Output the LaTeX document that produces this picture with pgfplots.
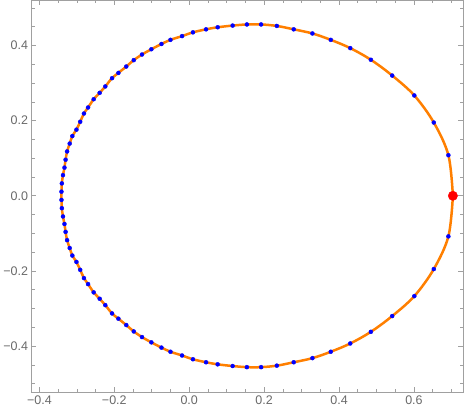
\documentclass[border=0pt]{standalone}
\usepackage{fontspec}
\setmainfont{Liberation Sans}
\usepackage{pgfplots}
\pgfplotsset{compat=1.18}

\definecolor{orbitorange}{RGB}{255,127,0}
\definecolor{framegray}{RGB}{160,160,160}
\definecolor{labelgray}{RGB}{105,105,105}

\begin{document}
\begin{tikzpicture}
\begin{axis}[
    scale only axis,
    width=432pt, height=392pt,
    xmin=-0.421, xmax=0.731,
    ymin=-0.522, ymax=0.52,
    axis line style={framegray, line width=0.8pt},
    tick style={framegray, line width=0.6pt},
    tick align=inside,
    major tick length=5pt,
    minor tick length=3pt,
    xtick={-0.4,-0.2,0,0.2,0.4,0.6},
    xticklabels={−0.4,−0.2,0.0,0.2,0.4,0.6},
    ytick={-0.4,-0.2,0,0.2,0.4},
    yticklabels={−0.4,−0.2,0.0,0.2,0.4},
    minor xtick={-0.35,-0.3,-0.25,-0.15,-0.1,-0.05,0.05,0.1,0.15,0.25,0.3,0.35,0.45,0.5,0.55,0.65,0.7},
    minor ytick={-0.5,-0.45,-0.35,-0.3,-0.25,-0.15,-0.1,-0.05,0.05,0.1,0.15,0.25,0.3,0.35,0.45,0.5},
    ticklabel style={font=\fontsize{12.5}{14}\selectfont, text=labelgray},
]
% orbit curve
\addplot[orbitorange, line width=2.5pt, smooth, tension=0.55] coordinates {
 (0.704,0) (0.692,0.108) (0.653,0.195) (0.601,0.267) (0.542,0.320) (0.485,0.362)
 (0.430,0.393) (0.378,0.415) (0.329,0.432) (0.279,0.443) (0.234,0.452) (0.192,0.456)
 (0.154,0.456) (0.116,0.453) (0.076,0.4485) (0.045,0.443) (0.010,0.435) (-0.019,0.425)
 (-0.050,0.415) (-0.074,0.404) (-0.101,0.390) (-0.126,0.376) (-0.148,0.361) (-0.168,0.344)
 (-0.189,0.327) (-0.206,0.313) (-0.224,0.291) (-0.239,0.274) (-0.255,0.257) (-0.270,0.235)
 (-0.281,0.219) (-0.291,0.197) (-0.301,0.176) (-0.312,0.159) (-0.319,0.139) (-0.326,0.118)
 (-0.330,0.096) (-0.333,0.075) (-0.337,0.055) (-0.340,0.033) (-0.341,0.011)
 (-0.341,-0.011) (-0.340,-0.033) (-0.337,-0.055) (-0.333,-0.075) (-0.330,-0.096) (-0.326,-0.118)
 (-0.319,-0.139) (-0.312,-0.159) (-0.301,-0.176) (-0.291,-0.197) (-0.281,-0.219) (-0.270,-0.235)
 (-0.255,-0.257) (-0.239,-0.274) (-0.224,-0.291) (-0.206,-0.313) (-0.189,-0.327) (-0.168,-0.344)
 (-0.148,-0.361) (-0.126,-0.376) (-0.101,-0.390) (-0.074,-0.404) (-0.050,-0.415) (-0.019,-0.425)
 (0.010,-0.435) (0.045,-0.443) (0.076,-0.4485) (0.116,-0.453) (0.154,-0.456) (0.192,-0.456)
 (0.234,-0.452) (0.279,-0.443) (0.329,-0.432) (0.378,-0.415) (0.430,-0.393) (0.485,-0.362)
 (0.542,-0.320) (0.601,-0.267) (0.653,-0.195) (0.692,-0.108) (0.704,0)
};
% sample points
\addplot[blue, only marks, mark=*, mark size=2pt] coordinates {
 (0.692,0.108) (0.653,0.195) (0.601,0.267) (0.542,0.320) (0.485,0.362)
 (0.430,0.393) (0.378,0.415) (0.329,0.432) (0.279,0.443) (0.234,0.452) (0.192,0.456)
 (0.154,0.456) (0.116,0.453) (0.076,0.4485) (0.045,0.443) (0.010,0.435) (-0.019,0.425)
 (-0.050,0.415) (-0.074,0.404) (-0.101,0.390) (-0.126,0.376) (-0.148,0.361) (-0.168,0.344)
 (-0.189,0.327) (-0.206,0.313) (-0.224,0.291) (-0.239,0.274) (-0.255,0.257) (-0.270,0.235)
 (-0.281,0.219) (-0.291,0.197) (-0.301,0.176) (-0.312,0.159) (-0.319,0.139) (-0.326,0.118)
 (-0.330,0.096) (-0.333,0.075) (-0.337,0.055) (-0.340,0.033) (-0.341,0.011)
 (-0.341,-0.011) (-0.340,-0.033) (-0.337,-0.055) (-0.333,-0.075) (-0.330,-0.096) (-0.326,-0.118)
 (-0.319,-0.139) (-0.312,-0.159) (-0.301,-0.176) (-0.291,-0.197) (-0.281,-0.219) (-0.270,-0.235)
 (-0.255,-0.257) (-0.239,-0.274) (-0.224,-0.291) (-0.206,-0.313) (-0.189,-0.327) (-0.168,-0.344)
 (-0.148,-0.361) (-0.126,-0.376) (-0.101,-0.390) (-0.074,-0.404) (-0.050,-0.415) (-0.019,-0.425)
 (0.010,-0.435) (0.045,-0.443) (0.076,-0.4485) (0.116,-0.453) (0.154,-0.456) (0.192,-0.456)
 (0.234,-0.452) (0.279,-0.443) (0.329,-0.432) (0.378,-0.415) (0.430,-0.393) (0.485,-0.362)
 (0.542,-0.320) (0.601,-0.267) (0.653,-0.195) (0.692,-0.108)
};
% starting point
\addplot[red, only marks, mark=*, mark size=4.7pt] coordinates {(0.704,0)};
\end{axis}
\path ([xshift=4pt]current axis.north east);
\end{tikzpicture}
\end{document}
